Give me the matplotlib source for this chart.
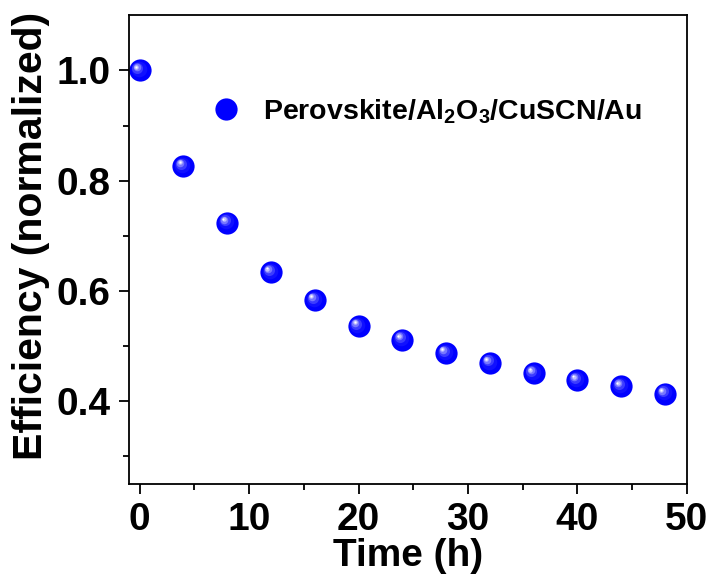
import matplotlib.pyplot as plt
import matplotlib.transforms as mtransforms
from matplotlib.lines import Line2D

# data
time_h = [0, 4, 8, 12, 16, 20, 24, 28, 32, 36, 40, 44, 48]
efficiency = [1.0, 0.827, 0.724, 0.634, 0.584, 0.537, 0.512, 0.488, 0.470, 0.451, 0.438, 0.427, 0.414]
series_label = 'Perovskite/Al$_2$O$_3$/CuSCN/Au'

plt.rcParams['font.family'] = ['Liberation Sans', 'DejaVu Sans']
plt.rcParams['font.weight'] = 'bold'
plt.rcParams['mathtext.fontset'] = 'custom'
plt.rcParams['mathtext.rm'] = 'Liberation Sans:bold'
plt.rcParams['mathtext.default'] = 'rm'

fig = plt.figure(figsize=(7.11, 5.86), dpi=100)
ax = fig.add_axes([0.181, 0.174, 0.785, 0.800])

# sphere look: blue ball plus lighter layers shifted up-left
ms = 16
layers = [(ms, '#0000ff', 0, 0), (ms * 0.7, '#1010ff', -0.8, 0.8),
          (ms * 0.5, '#3c3cff', -1.6, 1.6), (ms * 0.34, '#7878ff', -2.2, 2.2),
          (ms * 0.2, '#c0c0ff', -2.6, 2.6), (ms * 0.09, '#ffffff', -2.8, 2.8)]
for size, col, dx, dy in layers:
    tr = ax.transData + mtransforms.ScaledTranslation(dx / 72, dy / 72, fig.dpi_scale_trans)
    ax.plot(time_h, efficiency, 'o', ms=size, color=col, mec='none', transform=tr)

ax.set_xlim(-1, 50)
ax.set_ylim(0.25, 1.1)
ax.set_xticks([0, 10, 20, 30, 40, 50])
ax.set_xticks([5, 15, 25, 35, 45], minor=True)
ax.set_yticks([0.4, 0.6, 0.8, 1.0])
ax.set_yticks([0.3, 0.5, 0.7, 0.9], minor=True)
ax.tick_params(which='both', direction='out', width=1.3, labelsize=28, pad=6)
ax.tick_params(which='major', length=7)
ax.tick_params(which='minor', length=4)
for sp in ax.spines.values():
    sp.set_linewidth(1.3)

ax.set_xlabel('Time (h)', fontsize=28, fontweight='bold', labelpad=0)
ax.set_ylabel('Efficiency (normalized)', fontsize=29.5, fontweight='bold', labelpad=5, y=0.529)

handle = Line2D([], [], marker='o', ls='none', ms=ms, color='#0000ff', mec='none')
ax.legend([handle], [series_label], loc='center left', bbox_to_anchor=(0.149, 0.795),
          frameon=False, handlelength=1.0, handletextpad=0.8, borderpad=0,
          borderaxespad=0, prop={'weight': 'bold', 'size': 20.5})

fig.savefig('out.png', dpi=100)
